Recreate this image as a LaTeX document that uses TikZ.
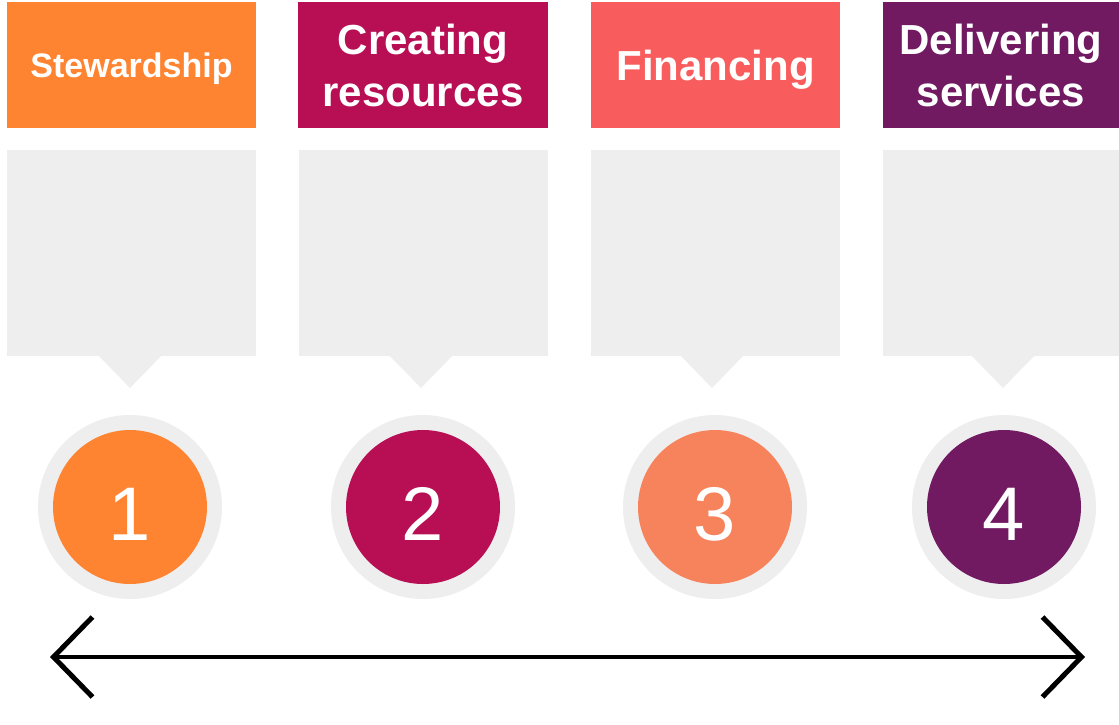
\documentclass[tikz,border=0pt]{standalone}
\usepackage{fontspec}
\setmainfont{Liberation Sans}
\usetikzlibrary{arrows.meta}
\definecolor{cOrange}{RGB}{254,132,50}
\definecolor{cMagenta}{RGB}{183,14,84}
\definecolor{cCoral}{RGB}{249,92,92}
\definecolor{cPurple}{RGB}{113,26,97}
\definecolor{cSalmon}{RGB}{247,131,93}
\definecolor{cGray}{RGB}{238,238,238}
\begin{document}
\begin{tikzpicture}[x=1pt,y=-1pt,
  header/.style={rectangle, inner sep=0pt, minimum height=126pt, text=white,
    align=center, font=\bfseries\fontsize{42}{52}\selectfont},
  ring/.style={circle, fill=cGray, inner sep=0pt, minimum size=184pt},
  disc/.style={circle, inner sep=0pt, minimum size=154pt},
  num/.style={text=white, inner sep=0pt, font=\fontsize{76}{76}\selectfont},
  callout/.style={fill=cGray},
  timeline/.style={line width=4pt, {Straight Barb[length=39pt,width=80pt,line width=5pt]}-{Straight Barb[length=39pt,width=80pt,line width=5pt]}}]
\useasboundingbox (0,0) rectangle (1119,725);
\fill[white] (0,0) rectangle (1119,725);
% headers
\node[header, fill=cOrange, minimum width=249pt, font=\bfseries\fontsize{34}{40}\selectfont] (h1) at (131.5,65) {\raisebox{-4pt}[\height][\depth]{Stewardship}};
\node[header, fill=cMagenta, minimum width=250pt] (h2) at (423,65) {Creating\\resources};
\node[header, fill=cCoral, minimum width=249pt] (h3) at (715.5,65) {\raisebox{-5pt}[\height][\depth]{Financing}};
\node[header, fill=cPurple, minimum width=236pt] (h4) at (1001,65) {Delivering\\services};
% callouts
\fill[callout] (7,150) rectangle (256,355.5);
\fill[callout] (98,355) -- (130,388) -- (162,355) -- cycle;
\fill[callout] (299,150) rectangle (548,355.5);
\fill[callout] (389,355) -- (421,388) -- (453,355) -- cycle;
\fill[callout] (591,150) rectangle (840,355.5);
\fill[callout] (680,355) -- (712,388) -- (744,355) -- cycle;
\fill[callout] (883,150) rectangle (1119,355.5);
\fill[callout] (971,355) -- (1003,388) -- (1035,355) -- cycle;
% circles
\node[ring] (r1) at (130,507) {};
\node[disc, fill=cOrange] (c1) at (130,507) {};
\node[num] (n1) at (130,514) {1};
\node[ring] (r2) at (423,507) {};
\node[disc, fill=cMagenta] (c2) at (423,507) {};
\node[num] (n2) at (423,514) {2};
\node[ring] (r3) at (715,507) {};
\node[disc, fill=cSalmon] (c3) at (715,507) {};
\node[num] (n3) at (715,514) {3};
\node[ring] (r4) at (1004,507) {};
\node[disc, fill=cPurple] (c4) at (1004,507) {};
\node[num] (n4) at (1004,514) {4};
% arrow
\coordinate (aL) at (50,657);
\coordinate (aR) at (1085,657);
\draw[timeline] (aL) -- (aR);
\end{tikzpicture}
\end{document}
